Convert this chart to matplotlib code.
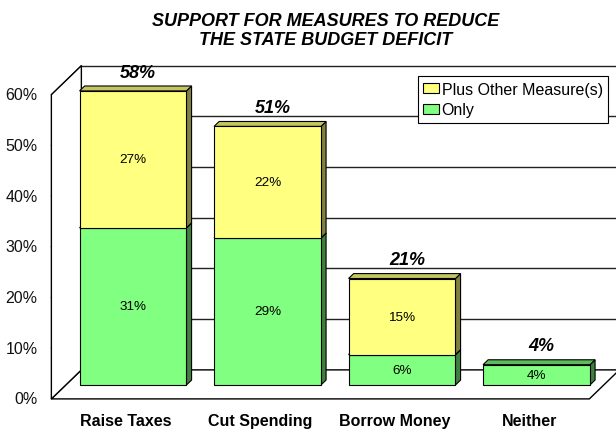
import matplotlib
matplotlib.use("Agg")
import matplotlib.pyplot as plt
from matplotlib.patches import Polygon, Patch

plt.rcParams["font.family"] = ["Liberation Sans", "DejaVu Sans"]

# ── DATA ──────────────────────────────────────────────────────────────────────
categories = ["Raise Taxes", "Cut Spending", "Borrow Money", "Neither"]
only_vals  = [31, 29, 6, 4]
plus_vals  = [27, 22, 15, 0]
totals     = [58, 51, 21, 4]
yticks     = [0, 10, 20, 30, 40, 50, 60]
series     = ["Plus Other Measure(s)", "Only"]

TITLE = "SUPPORT FOR MEASURES TO REDUCE\nTHE STATE BUDGET DEFICIT"

# ── STYLE ─────────────────────────────────────────────────────────────────────
YEL_FRONT, YEL_TOP, YEL_SIDE = "#FFFF80", "#C4C462", "#808040"
GRN_FRONT, GRN_TOP, GRN_SIDE = "#80FF80", "#5EBA5E", "#3F803F"
EDGE = "#000000"
WIDTH = 0.795          # bar width in category units

# pseudo-3D depth: full floor depth in data units
DX, DY = 0.223, 5.72
F_FRONT, F_BACK = -0.48, 0.52   # wall planes relative to bar front face
B_DEPTH = 0.17                  # bar thickness


def proj(x, v, d):
    return x + d * DX, v + d * DY


def quad(ax, pts, fc, lw=0.8, z=1, ec=EDGE):
    ax.add_patch(Polygon(pts, closed=True, facecolor=fc, edgecolor=ec,
                         linewidth=lw, zorder=z, joinstyle="miter"))


def box(ax, x, v0, v1, front, top, side, z):
    l, r = x - WIDTH / 2, x + WIDTH / 2
    quad(ax, [proj(r, v0, 0), proj(r, v0, B_DEPTH), proj(r, v1, B_DEPTH), proj(r, v1, 0)], side, z=z)
    quad(ax, [proj(l, v1, 0), proj(r, v1, 0), proj(r, v1, B_DEPTH), proj(l, v1, B_DEPTH)], top, z=z)
    quad(ax, [proj(l, v0, 0), proj(r, v0, 0), proj(r, v1, 0), proj(l, v1, 0)], front, z=z + 0.1)


fig = plt.figure(figsize=(6.16, 4.31), dpi=100)
ax = fig.add_axes([0, 0, 1, 1])
ax.set_xlim(-0.989, 3.591)
ax.set_ylim(-8.88, 76.13)
ax.axis("off")

x0, x1 = -0.5, len(categories) - 0.5
vmax = yticks[-1]

# floor
quad(ax, [proj(x0, 0, F_FRONT), proj(x1, 0, F_FRONT), proj(x1, 0, F_BACK), proj(x0, 0, F_BACK)],
     "white", lw=1.0)
# left wall
quad(ax, [proj(x0, 0, F_FRONT), proj(x0, vmax, F_FRONT), proj(x0, vmax, F_BACK), proj(x0, 0, F_BACK)],
     "white", lw=1.0)

# gridlines on back wall + diagonals on left wall
for t in yticks:
    bx0, by0 = proj(x0, t, F_BACK)
    bx1, by1 = proj(x1, t, F_BACK)
    ax.plot([bx0, bx1], [by0, by1], color="#222222", lw=1.0, zorder=0.5)
    fx, fy = proj(x0, t, F_FRONT)
    ax.plot([fx, bx0], [fy, by0], color="#222222", lw=0.9, zorder=0.6)
    ax.annotate(f"{t}%", (fx, fy), xytext=(-10, 0), textcoords="offset points",
                ha="right", va="center", fontsize=11.5, color="#111111")

# bars
for i, (o, p, tot) in enumerate(zip(only_vals, plus_vals, totals)):
    z = 2 + i
    box(ax, i, 0, o, GRN_FRONT, GRN_TOP, GRN_SIDE, z)
    ax.text(i, o / 2, f"{o}%", ha="center", va="center", fontsize=9.7, zorder=10)
    if p > 0:
        box(ax, i, o, o + p, YEL_FRONT, YEL_TOP, YEL_SIDE, z + 0.5)
        ax.text(i, o + p / 2, f"{p}%", ha="center", va="center", fontsize=9.7, zorder=10)
    tx, ty = proj(i, tot, B_DEPTH)
    ax.annotate(f"{tot}%", (tx, ty), xytext=(0, 10), textcoords="offset points",
                ha="center", va="center", fontsize=13, fontweight="bold",
                fontstyle="italic", zorder=10)
    cx, cy = proj(i, 0, F_FRONT / 2)
    ax.annotate(categories[i], (cx, proj(i, 0, F_FRONT)[1]), xytext=(0, -15.5),
                textcoords="offset points", ha="center", va="center",
                fontsize=11.5, fontweight="bold")

fig.text(0.528, 0.928, TITLE, ha="center", va="center", fontsize=13,
         fontweight="bold", fontstyle="italic", linespacing=1.2)

handles = [Patch(facecolor=YEL_FRONT, edgecolor=EDGE, lw=0.8, label=series[0]),
           Patch(facecolor=GRN_FRONT, edgecolor=EDGE, lw=0.8, label=series[1])]
leg = fig.legend(handles=handles, loc="upper left", bbox_to_anchor=(0.678, 0.821),
                 fontsize=11.5, frameon=True, fancybox=False, edgecolor=EDGE,
                 framealpha=1, handlelength=1.0, handleheight=0.6, handletextpad=0.15,
                 borderpad=0.35, labelspacing=0.35, borderaxespad=0)
leg.get_frame().set_linewidth(0.8)
leg.set_zorder(20)

fig.savefig("out.png", dpi=100, facecolor="white")
